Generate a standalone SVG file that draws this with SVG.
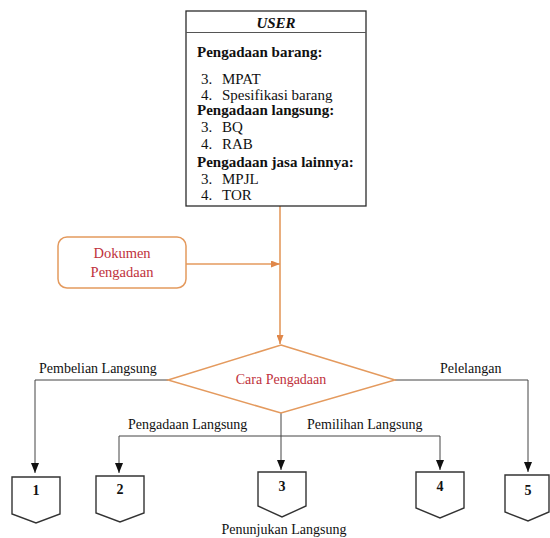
<svg xmlns="http://www.w3.org/2000/svg" width="550" height="538" viewBox="0 0 550 538" font-family="'Liberation Serif', 'Times New Roman', serif">
  <defs>
    <style>
      text { font-family: "Liberation Serif", "Times New Roman", serif; fill: #111; }
      .hd { font-size: 15px; font-weight: bold; }
      .it { font-size: 15px; }
      .lbl { font-size: 14px; }
      .red { fill: #c0323c; }
      .num { font-size: 14px; font-weight: bold; text-anchor: middle; }
      .box { fill: #fff; stroke: #333; stroke-width: 1.4; }
      .orange { fill: none; stroke: #e49a5e; stroke-width: 1.6; }
      .link { fill: none; stroke: #444; stroke-width: 1; }
      .doc { fill: #fff; stroke: #2b2b2b; stroke-width: 1.3; }
    </style>
    <marker id="arrBlack" viewBox="0 0 10 8" refX="10" refY="4" markerWidth="10" markerHeight="8" markerUnits="userSpaceOnUse" orient="auto">
      <path d="M0,0 L10,4 L0,8 z" fill="#111"/>
    </marker>
    <marker id="arrOrange" viewBox="0 0 9 7" refX="9" refY="3.5" markerWidth="9" markerHeight="7" markerUnits="userSpaceOnUse" orient="auto">
      <path d="M0,0 L9,3.5 L0,7 z" fill="#e0874a"/>
    </marker>
  </defs>

  <!-- connectors -->
  <g id="connectors">
    <line class="orange" x1="280" y1="206" x2="280" y2="344" marker-end="url(#arrOrange)"/>
    <line class="orange" x1="186" y1="264" x2="280" y2="264" marker-end="url(#arrOrange)"/>
    <polyline class="link" points="168,380 35,380 35,473" marker-end="url(#arrBlack)"/>
    <polyline class="link" points="395,380 528,380 528,472" marker-end="url(#arrBlack)"/>
    <line class="link" x1="281" y1="413" x2="281" y2="470" marker-end="url(#arrBlack)"/>
    <polyline class="link" points="281,436 119,436 119,473" marker-end="url(#arrBlack)"/>
    <polyline class="link" points="281,436 440,436 440,470" marker-end="url(#arrBlack)"/>
    <text class="lbl" x="39" y="373">Pembelian Langsung</text>
    <text class="lbl" x="440" y="373">Pelelangan</text>
    <text class="lbl" x="128" y="429">Pengadaan Langsung</text>
    <text class="lbl" x="307" y="429">Pemilihan Langsung</text>
    <text class="lbl" x="284" y="534" text-anchor="middle">Penunjukan Langsung</text>
  </g>

  <!-- user requirements -->
  <g id="user">
    <rect class="doc" x="186" y="11" width="180" height="195"/>
    <line x1="186" y1="32.5" x2="366" y2="32.5" stroke="#555" stroke-width="1"/>
    <text x="276" y="28" text-anchor="middle" font-size="15" font-weight="bold" font-style="italic">USER</text>
    <text class="hd" x="197" y="57">Pengadaan barang:</text>
    <text class="it" x="201" y="84">3.</text><text class="it" x="222" y="84">MPAT</text>
    <text class="it" x="201" y="100">4.</text><text class="it" x="222" y="100">Spesifikasi barang</text>
    <text class="hd" x="197" y="115">Pengadaan langsung:</text>
    <text class="it" x="201" y="132">3.</text><text class="it" x="222" y="132">BQ</text>
    <text class="it" x="201" y="149">4.</text><text class="it" x="222" y="149">RAB</text>
    <text class="hd" x="197" y="167">Pengadaan jasa lainnya:</text>
    <text class="it" x="201" y="184">3.</text><text class="it" x="222" y="184">MPJL</text>
    <text class="it" x="201" y="200">4.</text><text class="it" x="222" y="200">TOR</text>
  </g>

  <!-- procurement documents -->
  <g id="dokumen">
    <rect x="58" y="237" width="128" height="51" rx="9" ry="9" fill="#fff" stroke="#e49a5e" stroke-width="1.5"/>
    <text class="red" x="122" y="258" font-size="14.5" text-anchor="middle">Dokumen</text>
    <text class="red" x="122" y="277" font-size="14.5" text-anchor="middle">Pengadaan</text>
  </g>

  <!-- decision -->
  <g id="cara">
    <polygon points="281,345 395,380 281,413 168,380" fill="#fff" stroke="#e49a5e" stroke-width="1.5"/>
    <text class="red" x="281" y="384" font-size="14" text-anchor="middle">Cara Pengadaan</text>
  </g>

  <!-- outcome nodes -->
  <g id="node1">
    <polygon class="box" points="12,477 60,477 60,514 36,523 12,514"/>
    <text class="num" x="36" y="495">1</text>
  </g>
  <g id="node2">
    <polygon class="box" points="96,476 144,476 144,513 120,522 96,513"/>
    <text class="num" x="120" y="494">2</text>
  </g>
  <g id="node3">
    <polygon class="box" points="258,472 306,472 306,506 282,517 258,506"/>
    <text class="num" x="282" y="491">3</text>
  </g>
  <g id="node4">
    <polygon class="box" points="416,472 464,472 464,508 440,518 416,508"/>
    <text class="num" x="440" y="491">4</text>
  </g>
  <g id="node5">
    <polygon class="box" points="505,475 549,475 549,512 528,521 505,512"/>
    <text class="num" x="528" y="495">5</text>
  </g>
</svg>
